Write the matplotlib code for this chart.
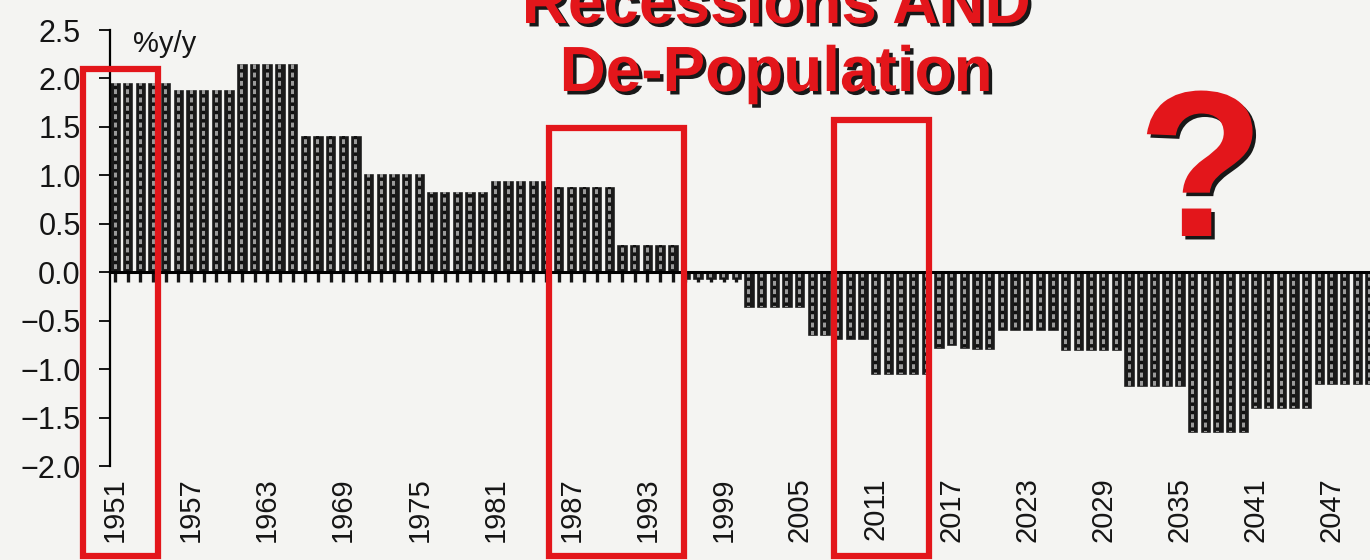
import matplotlib
matplotlib.use("Agg")
import matplotlib.pyplot as plt
import matplotlib.patheffects as pe
from matplotlib.patches import Rectangle
import numpy as np

# population growth, %y/y, one value per year
years = list(range(1951, 2051))
growth = [
    1.95, 1.95, 1.95, 1.95, 1.95,        # 1951-55
    1.88, 1.88, 1.88, 1.88, 1.88,        # 1956-60
    2.15, 2.15, 2.15, 2.15, 2.15,        # 1961-65
    1.41, 1.41, 1.41, 1.41, 1.41,        # 1966-70
    1.01, 1.01, 1.01, 1.01, 1.01,        # 1971-75
    0.83, 0.83, 0.83, 0.83, 0.83,        # 1976-80
    0.94, 0.94, 0.94, 0.94, 0.94,        # 1981-85
    0.88, 0.88, 0.88, 0.88, 0.88,        # 1986-90
    0.28, 0.28, 0.28, 0.28, 0.28,        # 1991-95
    -0.07, -0.07, -0.07, -0.07, -0.07,   # 1996-2000
    -0.36, -0.36, -0.36, -0.36, -0.36,   # 2001-05
    -0.65, -0.65, -0.69, -0.69, -0.69,   # 2006-10
    -1.05, -1.05, -1.05, -1.05, -1.05,   # 2011-15
    -0.78, -0.75, -0.78, -0.79, -0.79,   # 2016-20
    -0.60, -0.60, -0.60, -0.60, -0.60,   # 2021-25
    -0.80, -0.80, -0.80, -0.80, -0.80,   # 2026-30
    -1.17, -1.17, -1.17, -1.17, -1.17,   # 2031-35
    -1.65, -1.65, -1.65, -1.65, -1.65,   # 2036-40
    -1.40, -1.40, -1.40, -1.40, -1.40,   # 2041-45
    -1.15, -1.15, -1.15, -1.15, -1.15,   # 2046-50
]
label_years = list(range(1951, 2051, 6))
y_ticks = [-2.0, -1.5, -1.0, -0.5, 0.0, 0.5, 1.0, 1.5, 2.0, 2.5]

# red highlight boxes (year span, top value)
box_starts = [1948.5, 1985.2, 2007.7]
box_ends = [1954.4, 1995.9, 2015.2]
box_tops = [2.1, 1.49, 1.57]
box_bottom = -2.93

title_lines = "Recessions AND\nDe-Population"

bg = "#f4f4f2"
red = "#e3161b"
ink = "#151515"

plt.rcParams['font.family'] = ['Liberation Sans', 'DejaVu Sans']
plt.rcParams['hatch.linewidth'] = 2.5

fig = plt.figure(figsize=(13.7, 5.6), dpi=100, facecolor=bg)
ax = fig.add_axes([110 / 1370, 1 - 466 / 560, 1260 / 1370, 436 / 560])
ax.set_facecolor(bg)

# dark bars with a lighter "film strip" centre
ax.bar(years, growth, width=0.74, color="#1a1a1a", edgecolor="#111111", linewidth=0.4, zorder=2)
ax.bar(years, growth, width=0.24, color="#9a9a9a", hatch="--", edgecolor="#111111",
       linewidth=0, zorder=3)

ax.set_xlim(1950.6, 2049.8)
ax.set_ylim(-2.0, 2.5)

for s in ["top", "right"]:
    ax.spines[s].set_visible(False)
ax.spines["bottom"].set_position(("data", 0))
ax.spines["bottom"].set_linewidth(2.2)
ax.spines["bottom"].set_zorder(4)
ax.spines["left"].set_linewidth(1.6)

ax.set_xticks(years)
ax.tick_params(axis="x", labelbottom=False, length=7, width=2.4, direction="out", color=ink)
ax.set_yticks(y_ticks)
ax.set_yticklabels([f"{v:.1f}".replace("-", "\u2212") for v in y_ticks])
ax.tick_params(axis="y", length=8, width=1.4, pad=13, labelsize=22, labelcolor=ink, color=ink)

sec = ax.secondary_xaxis(0)
sec.set_xticks(label_years)
sec.set_xticklabels([str(y) for y in label_years], rotation=90)
sec.tick_params(length=0, pad=8, labelsize=21, labelcolor=ink)
sec.spines["bottom"].set_visible(False)

fig.text(133 / 1370, 1 - 52 / 560, "%y/y", fontsize=21, color=ink, va="baseline")

for x0, x1, top in zip(box_starts, box_ends, box_tops):
    ax.add_patch(Rectangle((x0, box_bottom), x1 - x0, top - box_bottom, fill=False,
                           edgecolor=red, linewidth=4.5, clip_on=False, zorder=6))

shadow = [pe.SimplePatchShadow(offset=(2.5, -2.5), shadow_rgbFace="black", alpha=0.9), pe.Normal()]
fig.text(776 / 1370, 1 - 91 / 560, title_lines, fontsize=46, fontweight="bold",
         color=red, ha="center", va="baseline",
         linespacing=1.17, path_effects=shadow)
fig.text(1201 / 1370, 1 - 236 / 560, "?", fontsize=150, fontweight="bold",
         color=red, ha="center", va="baseline", path_effects=shadow)

fig.savefig("out.png", dpi=100, facecolor=bg)
